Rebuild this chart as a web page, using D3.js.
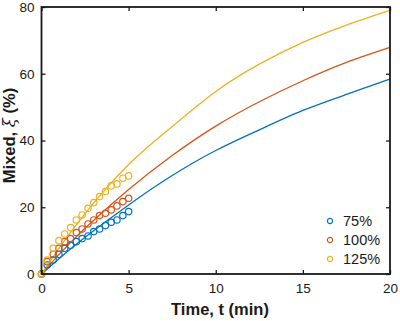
<!DOCTYPE html>
<html>
<head>
<meta charset="utf-8">
<script src="https://cdn.jsdelivr.net/npm/d3@7"></script>
<style>
  body { margin: 0; background: #fff; }
  svg text { font-family: "Liberation Sans", Arial, sans-serif; }
</style>
</head>
<body>
<svg width="400" height="321"></svg>
<script>
// measured data (t in min)
var tData = [0, 0.33, 0.67, 1, 1.33, 1.67, 2, 2.33, 2.67, 3, 3.33, 3.67, 4, 4.33, 4.67, 5];
var data75  = [0, 2.7, 4.2, 5.9, 7.7, 8.6, 9.7, 10.6, 11.4, 12.7, 13.5, 14.5, 15.5, 16.2, 17.5, 18.7];
var data100 = [0, 3.7, 5.9, 7.7, 9.7, 10.6, 12.4, 13.5, 15.0, 16.2, 17.5, 18.2, 19.2, 20.4, 21.7, 22.7];
var data125 = [0, 4.2, 7.7, 10.0, 12.0, 13.9, 16.2, 17.7, 19.7, 21.4, 23.2, 24.7, 26.4, 27.0, 28.7, 29.4];

// model curves
var tModel = [0, 1, 2.5, 5, 7.5, 10, 12.5, 15, 17.5, 20];
var model75  = [0, 4.6, 11.0, 20.7, 29.5, 37.0, 43.2, 49.0, 53.8, 58.4];
var model100 = [0, 5.8, 13.7, 25.3, 35.5, 44.3, 51.6, 57.9, 63.4, 67.9];
var model125 = [0, 7.7, 18.1, 32.8, 44.2, 54.7, 62.9, 69.4, 74.6, 79.0];

var labels = ["75%", "100%", "125%"];
var colors = ["#0072BD", "#D95319", "#EDB120"];
var xTicks = [0, 5, 10, 15, 20];
var yTicks = [0, 20, 40, 60, 80];

var svg = d3.select("svg"),
    pLeft = 41.5, pRight = 390, pTop = 7, pBottom = 274;

var x = d3.scaleLinear().domain([0, 20]).range([pLeft, pRight]);
var y = d3.scaleLinear().domain([0, 80]).range([pBottom, pTop]);

var series = [
  {data: data75, model: model75},
  {data: data100, model: model100},
  {data: data125, model: model125}
];

var line = d3.line()
    .x(function(d) { return x(d[0]); })
    .y(function(d) { return y(d[1]); })
    .curve(d3.curveNatural);

var plot = svg.append("g");

series.forEach(function(s, i) {
  plot.append("path")
      .datum(tModel.map(function(t, j) { return [t, s.model[j]]; }))
      .attr("d", line)
      .attr("fill", "none")
      .attr("stroke", colors[i])
      .attr("stroke-width", 1.3);
});

series.forEach(function(s, i) {
  plot.append("g").selectAll("circle")
      .data(tData.map(function(t, j) { return [t, s.data[j]]; }))
      .enter().append("circle")
        .attr("cx", function(d) { return x(d[0]); })
        .attr("cy", function(d) { return y(d[1]); })
        .attr("r", 3.2)
        .attr("fill", "none")
        .attr("stroke", colors[i])
        .attr("stroke-width", 1.2);
});

// axes, ticks pointing inward, box on
function styleAxis(g) {
  g.select(".domain").remove();
  g.selectAll("line").attr("stroke", "#1a1a1a").attr("stroke-width", 1.3);
  g.selectAll("text").attr("font-size", 13.5).attr("fill", "#1a1a1a");
}
svg.append("g")
    .attr("transform", "translate(0," + pBottom + ")")
    .call(d3.axisBottom(x).tickValues(xTicks).tickSizeInner(-4).tickSizeOuter(0).tickPadding(9))
    .call(styleAxis);
svg.append("g")
    .attr("transform", "translate(" + pLeft + ",0)")
    .call(d3.axisLeft(y).tickValues(yTicks).tickSizeInner(-4).tickSizeOuter(0).tickPadding(7))
    .call(styleAxis);
svg.append("g")
    .attr("transform", "translate(0," + pTop + ")")
    .call(d3.axisTop(x).tickValues(xTicks).tickSizeInner(-4).tickSizeOuter(0).tickFormat(""))
    .call(styleAxis);
svg.append("g")
    .attr("transform", "translate(" + pRight + ",0)")
    .call(d3.axisRight(y).tickValues(yTicks).tickSizeInner(-4).tickSizeOuter(0).tickFormat(""))
    .call(styleAxis);

svg.append("rect")
    .attr("x", pLeft).attr("y", pTop)
    .attr("width", pRight - pLeft).attr("height", pBottom - pTop)
    .attr("fill", "none")
    .attr("stroke", "#1a1a1a")
    .attr("stroke-width", 1.8);

// axis titles
svg.append("text")
    .attr("x", 220)
    .attr("y", 315)
    .attr("text-anchor", "middle")
    .attr("font-size", 16.5)
    .attr("font-weight", "bold")
    .attr("fill", "#1a1a1a")
    .text("Time, t (min)");

var yl = svg.append("text")
    .attr("transform", "translate(15,135.5) rotate(-90)")
    .attr("text-anchor", "middle")
    .attr("font-size", 16.5)
    .attr("font-weight", "bold")
    .attr("fill", "#1a1a1a");
yl.append("tspan").text("Mixed, ");
yl.append("tspan").attr("font-weight", "normal").attr("font-style", "italic").attr("font-family", "DejaVu Serif, serif").text("ξ");
yl.append("tspan").text(" (%)");

// legend
var legend = svg.append("g").selectAll("g")
    .data(labels)
    .enter().append("g")
      .attr("transform", function(d, i) { return "translate(330," + (221 + i * 19) + ")"; });
legend.append("circle")
    .attr("r", 2.6)
    .attr("fill", "none")
    .attr("stroke", function(d, i) { return colors[i]; })
    .attr("stroke-width", 1.2);
legend.append("text")
    .attr("x", 13)
    .attr("dy", "0.36em")
    .attr("font-size", 14.5)
    .attr("fill", "#1a1a1a")
    .text(function(d) { return d; });
</script>
</body>
</html>
